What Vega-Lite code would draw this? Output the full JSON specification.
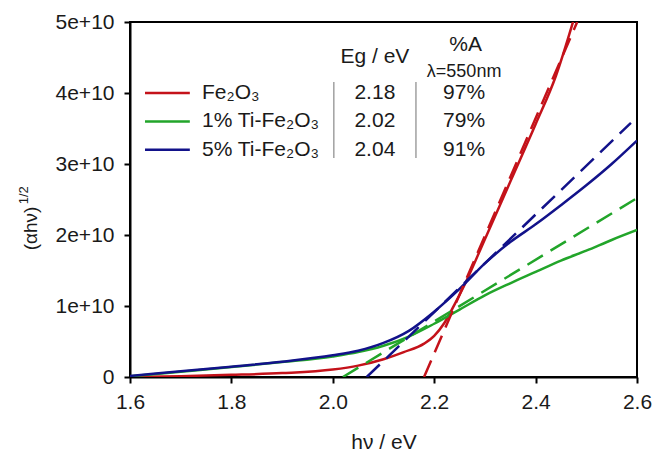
{
  "$schema": "https://vega.github.io/schema/vega-lite/v6.json",
  "width": 507,
  "height": 355,
  "autosize": {"type": "none"},
  "padding": {"left": 130, "top": 22, "right": 19, "bottom": 77},
  "background": "white",
  "config": {
    "font": "Liberation Sans",
    "view": {"stroke": "black", "strokeWidth": 2},
    "axis": {
      "grid": false,
      "domainColor": "black",
      "domainWidth": 2,
      "tickColor": "black",
      "tickWidth": 2,
      "tickSize": 6,
      "labelFont": "Liberation Sans",
      "labelFontSize": 21,
      "labelColor": "#1a1a1a",
      "labelFlush": false,
      "labelOverlap": false,
      "titleFont": "Liberation Sans",
      "titleFontSize": 21,
      "titleFontWeight": "normal",
      "titleColor": "#1a1a1a"
    }
  },
  "datasets": {
    "curves": [
      {"series": "Fe2O3", "kind": "data", "x": 1.6, "y": 0},
      {"series": "Fe2O3", "kind": "data", "x": 1.7, "y": 120000000},
      {"series": "Fe2O3", "kind": "data", "x": 1.8, "y": 300000000},
      {"series": "Fe2O3", "kind": "data", "x": 1.9, "y": 550000000},
      {"series": "Fe2O3", "kind": "data", "x": 2.0, "y": 1050000000},
      {"series": "Fe2O3", "kind": "data", "x": 2.05, "y": 1600000000},
      {"series": "Fe2O3", "kind": "data", "x": 2.1, "y": 2500000000},
      {"series": "Fe2O3", "kind": "data", "x": 2.14, "y": 3500000000},
      {"series": "Fe2O3", "kind": "data", "x": 2.18, "y": 4700000000},
      {"series": "Fe2O3", "kind": "data", "x": 2.2, "y": 5800000000},
      {"series": "Fe2O3", "kind": "data", "x": 2.22, "y": 7600000000},
      {"series": "Fe2O3", "kind": "data", "x": 2.24, "y": 10200000000},
      {"series": "Fe2O3", "kind": "data", "x": 2.26, "y": 13000000000},
      {"series": "Fe2O3", "kind": "data", "x": 2.3, "y": 19400000000},
      {"series": "Fe2O3", "kind": "data", "x": 2.35, "y": 27500000000},
      {"series": "Fe2O3", "kind": "data", "x": 2.4, "y": 35600000000},
      {"series": "Fe2O3", "kind": "data", "x": 2.44, "y": 42400000000},
      {"series": "Fe2O3", "kind": "data", "x": 2.48, "y": 51500000000},
      {"series": "1% Ti", "kind": "data", "x": 1.6, "y": 100000000},
      {"series": "1% Ti", "kind": "data", "x": 1.7, "y": 750000000},
      {"series": "1% Ti", "kind": "data", "x": 1.8, "y": 1400000000},
      {"series": "1% Ti", "kind": "data", "x": 1.9, "y": 2100000000},
      {"series": "1% Ti", "kind": "data", "x": 2.0, "y": 2900000000},
      {"series": "1% Ti", "kind": "data", "x": 2.05, "y": 3500000000},
      {"series": "1% Ti", "kind": "data", "x": 2.1, "y": 4400000000},
      {"series": "1% Ti", "kind": "data", "x": 2.15, "y": 5700000000},
      {"series": "1% Ti", "kind": "data", "x": 2.2, "y": 7500000000},
      {"series": "1% Ti", "kind": "data", "x": 2.25, "y": 9500000000},
      {"series": "1% Ti", "kind": "data", "x": 2.3, "y": 11500000000},
      {"series": "1% Ti", "kind": "data", "x": 2.35, "y": 13200000000},
      {"series": "1% Ti", "kind": "data", "x": 2.4, "y": 14800000000},
      {"series": "1% Ti", "kind": "data", "x": 2.45, "y": 16400000000},
      {"series": "1% Ti", "kind": "data", "x": 2.5, "y": 17800000000},
      {"series": "1% Ti", "kind": "data", "x": 2.55, "y": 19300000000},
      {"series": "1% Ti", "kind": "data", "x": 2.6, "y": 20700000000},
      {"series": "5% Ti", "kind": "data", "x": 1.6, "y": 150000000},
      {"series": "5% Ti", "kind": "data", "x": 1.7, "y": 800000000},
      {"series": "5% Ti", "kind": "data", "x": 1.8, "y": 1450000000},
      {"series": "5% Ti", "kind": "data", "x": 1.9, "y": 2150000000},
      {"series": "5% Ti", "kind": "data", "x": 2.0, "y": 3050000000},
      {"series": "5% Ti", "kind": "data", "x": 2.05, "y": 3700000000},
      {"series": "5% Ti", "kind": "data", "x": 2.1, "y": 4800000000},
      {"series": "5% Ti", "kind": "data", "x": 2.15, "y": 6500000000},
      {"series": "5% Ti", "kind": "data", "x": 2.2, "y": 9200000000},
      {"series": "5% Ti", "kind": "data", "x": 2.25, "y": 12400000000},
      {"series": "5% Ti", "kind": "data", "x": 2.3, "y": 16000000000},
      {"series": "5% Ti", "kind": "data", "x": 2.35, "y": 19000000000},
      {"series": "5% Ti", "kind": "data", "x": 2.4, "y": 21500000000},
      {"series": "5% Ti", "kind": "data", "x": 2.45, "y": 24200000000},
      {"series": "5% Ti", "kind": "data", "x": 2.5, "y": 27000000000},
      {"series": "5% Ti", "kind": "data", "x": 2.55, "y": 30000000000},
      {"series": "5% Ti", "kind": "data", "x": 2.6, "y": 33300000000},
      {"series": "Fe2O3", "kind": "fit", "x": 2.18, "y": 0},
      {"series": "Fe2O3", "kind": "fit", "x": 2.482, "y": 50000000000},
      {"series": "1% Ti", "kind": "fit", "x": 2.02, "y": 0},
      {"series": "1% Ti", "kind": "fit", "x": 2.6, "y": 25200000000},
      {"series": "5% Ti", "kind": "fit", "x": 2.067, "y": 0},
      {"series": "5% Ti", "kind": "fit", "x": 2.588, "y": 35800000000}
    ],
    "table": [
      {"series": "Fe2O3", "label": "Fe₂O₃", "eg": "2.18", "pa": "97%", "y": 40000000000},
      {"series": "1% Ti", "label": "1% Ti-Fe₂O₃", "eg": "2.02", "pa": "79%", "y": 36000000000},
      {"series": "5% Ti", "label": "5% Ti-Fe₂O₃", "eg": "2.04", "pa": "91%", "y": 32000000000}
    ],
    "headers": [
      {"text": "Eg / eV", "x": 2.083, "y": 45070000000, "size": "big"},
      {"text": "%A", "x": 2.262, "y": 46760000000, "size": "big"},
      {"text": "λ=550nm", "x": 2.259, "y": 42960000000, "size": "small"}
    ],
    "superscript": [
      {"text": "1/2", "x": 1.391, "y": 25600000000}
    ],
    "separators": [
      {"x": 2.002, "y": 30850000000, "y2": 41550000000},
      {"x": 2.164, "y": 30850000000, "y2": 41550000000}
    ]
  },
  "layer": [
    {
      "data": {"name": "curves"},
      "transform": [{"filter": "datum.kind == 'data'"}],
      "mark": {"type": "line", "strokeWidth": 2.5, "interpolate": "monotone", "clip": true},
      "encoding": {
        "x": {"field": "x", "type": "quantitative",
          "scale": {"domain": [1.6, 2.6], "nice": false, "zero": false},
          "axis": {"values": [1.6, 1.8, 2.0, 2.2, 2.4, 2.6], "format": ".1f", "labelPadding": 8,
            "title": "hν / eV", "titleY": 71, "titleBaseline": "alphabetic"}},
        "y": {"field": "y", "type": "quantitative",
          "scale": {"domain": [0, 50000000000], "nice": false},
          "axis": {"values": [0, 10000000000, 20000000000, 30000000000, 40000000000, 50000000000],
            "labelExpr": "datum.value == 0 ? '0' : format(datum.value, '.0e')", "labelPadding": 10,
            "title": "(αhν)", "titleX": -100, "titleY": 206, "titleAngle": -90,
            "titleAlign": "center", "titleBaseline": "middle", "titleFontSize": 19}},
        "color": {"field": "series", "type": "nominal",
          "scale": {"domain": ["Fe2O3", "1% Ti", "5% Ti"], "range": ["#c4121a", "#22a52a", "#12128a"]},
          "legend": null},
        "detail": {"field": "series"}
      }
    },
    {
      "data": {"name": "curves"},
      "transform": [{"filter": "datum.kind == 'fit'"}],
      "mark": {"type": "line", "strokeWidth": 2.5, "strokeDash": [18, 9], "clip": true},
      "encoding": {
        "x": {"field": "x", "type": "quantitative"},
        "y": {"field": "y", "type": "quantitative"},
        "color": {"field": "series", "type": "nominal", "legend": null}
      }
    },
    {
      "data": {"name": "table"},
      "mark": {"type": "rule", "strokeWidth": 2.5},
      "encoding": {
        "x": {"datum": 1.6296},
        "x2": {"datum": 1.718},
        "y": {"field": "y", "type": "quantitative"},
        "color": {"field": "series", "type": "nominal", "legend": null}
      }
    },
    {
      "data": {"name": "table"},
      "mark": {"type": "text", "align": "left", "baseline": "middle", "fontSize": 21, "color": "#1a1a1a"},
      "encoding": {
        "x": {"datum": 1.742},
        "y": {"field": "y", "type": "quantitative"},
        "text": {"field": "label"}
      }
    },
    {
      "data": {"name": "table"},
      "mark": {"type": "text", "align": "center", "baseline": "middle", "fontSize": 21, "color": "#1a1a1a"},
      "encoding": {
        "x": {"datum": 2.083},
        "y": {"field": "y", "type": "quantitative"},
        "text": {"field": "eg"}
      }
    },
    {
      "data": {"name": "table"},
      "mark": {"type": "text", "align": "center", "baseline": "middle", "fontSize": 21, "color": "#1a1a1a"},
      "encoding": {
        "x": {"datum": 2.259},
        "y": {"field": "y", "type": "quantitative"},
        "text": {"field": "pa"}
      }
    },
    {
      "data": {"name": "headers"},
      "transform": [{"filter": "datum.size == 'big'"}],
      "mark": {"type": "text", "align": "center", "baseline": "middle", "fontSize": 21, "color": "#1a1a1a"},
      "encoding": {
        "x": {"field": "x", "type": "quantitative"},
        "y": {"field": "y", "type": "quantitative"},
        "text": {"field": "text"}
      }
    },
    {
      "data": {"name": "headers"},
      "transform": [{"filter": "datum.size == 'small'"}],
      "mark": {"type": "text", "align": "center", "baseline": "middle", "fontSize": 18, "color": "#1a1a1a"},
      "encoding": {
        "x": {"field": "x", "type": "quantitative"},
        "y": {"field": "y", "type": "quantitative"},
        "text": {"field": "text"}
      }
    },
    {
      "data": {"name": "superscript"},
      "mark": {"type": "text", "align": "center", "baseline": "middle", "fontSize": 13, "angle": 270, "color": "#1a1a1a"},
      "encoding": {
        "x": {"field": "x", "type": "quantitative"},
        "y": {"field": "y", "type": "quantitative"},
        "text": {"field": "text"}
      }
    },
    {
      "data": {"name": "separators"},
      "mark": {"type": "rule", "strokeWidth": 1.5, "color": "#a0a0a0"},
      "encoding": {
        "x": {"field": "x", "type": "quantitative"},
        "y": {"field": "y", "type": "quantitative"},
        "y2": {"field": "y2"}
      }
    }
  ]
}
